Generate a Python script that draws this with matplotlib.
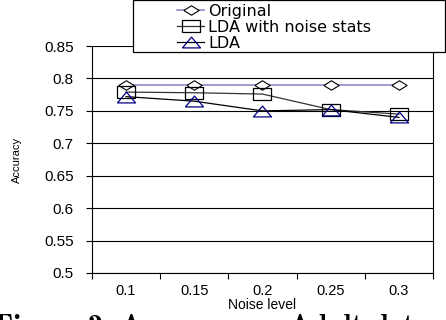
import numpy as np
import matplotlib.pyplot as plt
from matplotlib.patches import Rectangle

# valores
niveles_ruido = ['0.1', '0.15', '0.2', '0.25', '0.3']
acc_original = [0.79, 0.79, 0.79, 0.79, 0.79]
acc_lda_stats = [0.779, 0.778, 0.776, 0.752, 0.745]
acc_lda = [0.772, 0.765, 0.750, 0.752, 0.740]

# marcadores achatados (la imagen original esta estirada en horizontal)
rombo = [(-1, 0), (0, 0.62), (1, 0), (0, -0.62), (-1, 0)]
cuadrado = [(-1, -0.7), (1, -0.7), (1, 0.7), (-1, 0.7), (-1, -0.7)]
triangulo = [(-1, -0.6), (1, -0.6), (0, 0.6), (-1, -0.6)]

plt.rcParams['font.family'] = ['Liberation Sans', 'DejaVu Sans']

fig = plt.figure(figsize=(4.46, 3.2), dpi=100)
ax = fig.add_axes([0.206, 0.147, 0.765, 0.709])

x = np.arange(len(niveles_ruido))
l1, = ax.plot(x, acc_original, color='#8c8cc8', lw=1.2, marker=rombo, ms=11,
              mfc='white', mec='black', mew=0.8, label='Original')
l2, = ax.plot(x, acc_lda_stats, color='#333333', lw=0.9, marker=cuadrado, ms=13,
              mfc='none', mec='black', mew=0.9, label='LDA with noise stats')
l3, = ax.plot(x, acc_lda, color='black', lw=0.9, marker=triangulo, ms=13,
              mfc='none', mec='#000080', mew=0.9, label='LDA')

ax.set_xlim(-0.5, 4.5)
ax.set_ylim(0.5, 0.85)
ax.set_yticks(np.arange(0.5, 0.851, 0.05))
ax.set_yticklabels(['0.5', '0.55', '0.6', '0.65', '0.7', '0.75', '0.8', '0.85'])
ax.yaxis.grid(True, color='black', lw=0.8)
ax.set_axisbelow(True)

ax.set_xticks(np.arange(-0.5, 4.6, 1.0))
ax.set_xticklabels([])
ax.set_xticks(x, minor=True)
ax.set_xticklabels(niveles_ruido, minor=True)
ax.tick_params(axis='x', which='major', length=4, width=0.8, direction='out')
ax.tick_params(axis='x', which='minor', length=0, pad=8, labelsize=10.5)
ax.tick_params(axis='y', length=4, width=0.8, pad=9, labelsize=11)

for s in ax.spines.values():
    s.set_linewidth(0.8)
    s.set_color('black')
ax.spines['top'].set_visible(False)

ax.set_xlabel('Noise level', fontsize=10, labelpad=0)
ax.set_ylabel('Accuracy', fontsize=8, labelpad=16)

# cuadro de la leyenda
fig.patches.append(Rectangle((133 / 446, 1 - 52 / 320), 312 / 446, 52 / 320,
                             transform=fig.transFigure, fill=True, facecolor='white',
                             edgecolor='black', lw=0.9, zorder=5))
leg = fig.legend(handles=[l1, l2, l3], loc='upper left', frameon=False,
                 bbox_to_anchor=(169 / 446, 1.0 + 4 / 320), borderpad=0,
                 handlelength=1.7, handletextpad=0.25, labelspacing=0.05,
                 prop={'family': 'DejaVu Sans', 'size': 11.5})
leg.set_zorder(6)

# pie de figura recortado (solo asoma la parte de arriba)
fig.text(-0.012, -0.044, 'Figure 2: Accuracy on Adult dataset', fontfamily='cmb10',
         fontsize=21, va='baseline', ha='left')

fig.savefig('out.png', dpi=100)
